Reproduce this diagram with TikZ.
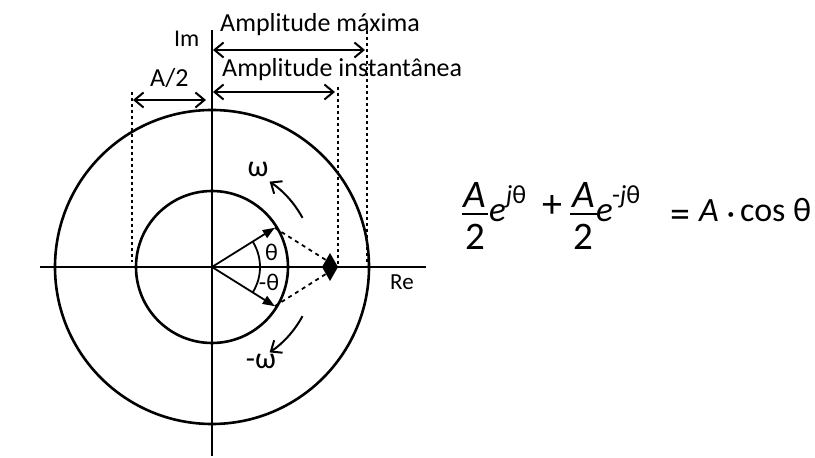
\documentclass[tikz,border=0pt]{standalone}
\usepackage{fontspec}
\setmainfont{Carlito}
\usetikzlibrary{arrows.meta,calc}
\begin{document}
\begin{tikzpicture}[x=1pt,y=1pt,
  axis/.style={line width=2.6pt},
  circ/.style={line width=2.6pt},
  phasor/.style={line width=1.8pt,-{Triangle[length=12pt,width=9pt]}},
  dimarrow/.style={line width=2pt,{Straight Barb[length=9pt,width=15pt]}-{Straight Barb[length=9pt,width=15pt]}},
  rotarrow/.style={line width=2pt,-{Straight Barb[length=9pt,width=15pt]}},
  dotline/.style={line width=2.2pt,dash pattern=on 3pt off 3pt},
  dashline/.style={line width=1.8pt,dash pattern=on 4pt off 4pt},
  lbl/.style={inner sep=0pt,anchor=base west,font=\fontsize{26}{30}\selectfont},
  greek/.style={inner sep=0pt,font=\fontsize{24}{26}\selectfont},
  eqbig/.style={inner sep=0pt,anchor=base,font=\fontsize{39}{44}\selectfont},
  eqmid/.style={inner sep=0pt,anchor=base west,font=\fontsize{35}{40}\selectfont},
  eqsup/.style={inner sep=0pt,anchor=base west,font=\fontsize{26}{30}\selectfont},
  eqop/.style={inner sep=0pt,anchor=base,font=\fontsize{40}{44}\selectfont},
  fracbar/.style={line width=1.6pt}]
\useasboundingbox (0,0) rectangle (815,458);
\fill[white] (0,0) rectangle (815,458);
% centre
\coordinate (O) at (212,191);
% axes
\coordinate (reL) at (40,191);
\coordinate (reR) at (426,191);
\coordinate (imT) at (212,428);
\coordinate (imB) at (212,2);
\draw[axis] (reL) -- (reR);
\draw[axis] (imB) -- (imT);
% circles
\draw[circ] (O) circle[radius=157];
\draw[circ] (O) circle[radius=76];
% phasors
\coordinate (p1) at ($(O)+(32:74)$);
\coordinate (p2) at ($(O)+(-32:74)$);
\coordinate (S) at (337,191);
\draw[dashline] (p1) -- (S);
\draw[dashline] (p2) -- (S);
\draw[phasor] (O) -- (p1);
\draw[phasor] (O) -- (p2);
\fill (322,191) -- (330,205) -- (338,191) -- (330,177) -- cycle;
% angle arc
\draw[line width=1.8pt] ($(O)+(-32:48)$) arc[start angle=-32,end angle=32,radius=48];
\node[greek] (th) at (271.5,206) {θ};
\node[greek] (mth) at (269,176) {-θ};
% rotation arrows
\coordinate (w1s) at ($(O)+(28.5:103)$);
\coordinate (w2s) at ($(O)+(-28.5:103)$);
\draw[rotarrow] (w1s) arc[start angle=28.5,end angle=56,radius=103];
\draw[rotarrow] (w2s) arc[start angle=-28.5,end angle=-56,radius=103];
\node[greek,font=\fontsize{30}{32}\selectfont] (w) at (258,289) {ω};
\node[greek,font=\fontsize{30}{32}\selectfont] (mw) at (261,97) {-ω};
% dotted guides
\coordinate (dmT) at (367,433);
\coordinate (dmB) at (367,193);
\coordinate (diT) at (338,371);
\coordinate (diB) at (338,193);
\coordinate (daT) at (132,366);
\coordinate (daB) at (132,196);
\draw[dotline] (dmT) -- (dmB);
\draw[dotline] (diT) -- (diB);
\draw[dotline] (daT) -- (daB);
% dimension arrows
\coordinate (mL) at (213,408);
\coordinate (mR) at (365,408);
\coordinate (iL) at (213,366);
\coordinate (iR) at (335,366);
\coordinate (aL) at (133,358);
\coordinate (aR) at (206,358);
\draw[dimarrow] (mL) -- (mR);
\draw[dimarrow] (iL) -- (iR);
\draw[dimarrow] (aL) -- (aR);
% labels
\node[lbl] (tmax) at (220,426) {Amplitude máxima};
\node[lbl] (tinst) at (222,381) {Amplitude instantânea};
\node[lbl,font=\fontsize{24}{28}\selectfont] (tim) at (174,411) {Im};
\node[lbl] (ta2) at (150,371) {A/2};
\node[lbl,font=\fontsize{23}{27}\selectfont] (tre) at (390,168) {Re};
% equation: first term
\node[eqbig] (n1) at (475,250) {\textit{A}};
\draw[fracbar] (462,244) -- (488,244);
\node[eqbig] (d1) at (475,208) {2};
\node[eqmid] (e1) at (489,236) {\textit{e}};
\node[eqsup] (s1) at (506,254) {\textit{j}θ};
\node[eqop] (plus) at (552,240) {+};
% second term
\node[eqbig] (n2) at (583.5,250) {\textit{A}};
\draw[fracbar] (570,244) -- (597,244);
\node[eqbig] (d2) at (583.5,208) {2};
\node[eqmid] (e2) at (596,236) {\textit{e}};
\node[eqsup] (s2) at (612,254) {-\textit{j}θ};
% right-hand side
\node[eqop] (eqs) at (680,230) {=};
\node[eqmid,font=\fontsize{34}{38}\selectfont] (ra) at (699,236) {\textit{A}};
\node[inner sep=0pt,anchor=base,font=\fontsize{34}{38}\selectfont] (dot) at (731,233) {·};
\node[eqmid,font=\fontsize{34}{38}\selectfont] (cos) at (740,236) {cos θ};
\end{tikzpicture}
\end{document}
